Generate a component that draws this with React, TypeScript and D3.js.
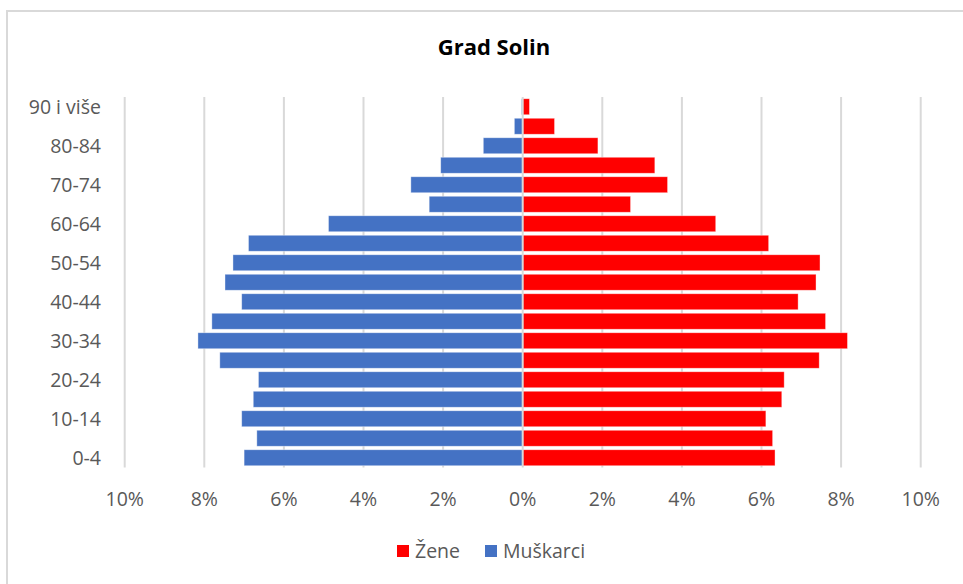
import * as d3 from 'd3';
import React, { useEffect, useRef } from 'react';

// age groups, bottom to top
const ageGroups = [
    '0-4', '5-9', '10-14', '15-19', '20-24', '25-29', '30-34', '35-39', '40-44', '45-49',
    '50-54', '55-59', '60-64', '65-69', '70-74', '75-79', '80-84', '85-89', '90 i više'
];

// share of population in %
const muskarci = [7.00, 6.68, 7.06, 6.77, 6.64, 7.61, 8.16, 7.81, 7.06, 7.48, 7.28, 6.89, 4.88, 2.35, 2.81, 2.06, 0.99, 0.21, 0.03];
const zene = [6.34, 6.28, 6.11, 6.51, 6.57, 7.45, 8.16, 7.61, 6.92, 7.37, 7.47, 6.18, 4.85, 2.71, 3.64, 3.32, 1.89, 0.80, 0.17];

const xTicks = [-10, -8, -6, -4, -2, 0, 2, 4, 6, 8, 10];

const legendItems = [
    { name: 'Žene', color: '#ff0000' },
    { name: 'Muškarci', color: '#4472c4' }
];

export default function App() {
    const svgRef = useRef(null);

    useEffect(() => {
        if (!svgRef.current) return;
        const width = 963;
        const height = 584;
        const font = "'Open Sans', 'Noto Sans', sans-serif";

        const svg = d3.select(svgRef.current);
        svg.selectAll('*').remove();

        // chart frame (runs off the right/bottom edges)
        svg.append('rect')
            .attr('x', 7)
            .attr('y', 11)
            .attr('width', width + 20)
            .attr('height', height + 20)
            .attr('fill', '#fff')
            .attr('stroke', '#d9d9d9')
            .attr('stroke-width', 2);

        const x = d3.scaleLinear()
            .domain([-10, 10])
            .range([124.7, 920.7]);

        const y = d3.scaleBand()
            .domain(ageGroups)
            .range([467.5, 97])
            .paddingInner(0.18)
            .paddingOuter(0.09);

        // gridlines
        svg.append('g')
            .selectAll('line')
            .data(xTicks.filter(d => d !== 0))
            .join('line')
            .attr('x1', d => x(d))
            .attr('x2', d => x(d))
            .attr('y1', 97)
            .attr('y2', 467.5)
            .attr('stroke', '#d9d9d9')
            .attr('stroke-width', 2);

        // male bars (left)
        svg.append('g')
            .selectAll('rect')
            .data(ageGroups)
            .join('rect')
            .attr('x', (d, i) => x(-muskarci[i]))
            .attr('y', d => y(d))
            .attr('width', (d, i) => x(0) - x(-muskarci[i]))
            .attr('height', y.bandwidth())
            .attr('fill', '#4472c4')
            .attr('stroke', '#fff')
            .attr('stroke-opacity', 0.5)
            .attr('stroke-width', 0.75);

        // female bars (right)
        svg.append('g')
            .selectAll('rect')
            .data(ageGroups)
            .join('rect')
            .attr('x', x(0))
            .attr('y', d => y(d))
            .attr('width', (d, i) => x(zene[i]) - x(0))
            .attr('height', y.bandwidth())
            .attr('fill', '#ff0000')
            .attr('stroke', '#fff')
            .attr('stroke-opacity', 0.5)
            .attr('stroke-width', 0.75);

        // category axis line at 0
        svg.append('line')
            .attr('x1', x(0))
            .attr('x2', x(0))
            .attr('y1', 97)
            .attr('y2', 467.5)
            .attr('stroke', '#d9d9d9')
            .attr('stroke-width', 2);

        // x axis labels
        svg.append('g')
            .selectAll('text')
            .data(xTicks)
            .join('text')
            .attr('x', d => x(d))
            .attr('y', 506)
            .attr('text-anchor', 'middle')
            .attr('font-family', font)
            .attr('font-size', 19.5)
            .attr('fill', '#595959')
            .text(d => `${Math.abs(d)}%`);

        // y axis labels, every other group
        svg.append('g')
            .selectAll('text')
            .data(ageGroups.filter((d, i) => i % 2 === 0))
            .join('text')
            .attr('x', 101)
            .attr('y', d => y(d) + y.bandwidth() / 2)
            .attr('dy', '0.35em')
            .attr('text-anchor', 'end')
            .attr('font-family', font)
            .attr('font-size', 19.5)
            .attr('fill', '#595959')
            .text(d => d);

        // title
        svg.append('text')
            .attr('x', 494)
            .attr('y', 55)
            .attr('text-anchor', 'middle')
            .attr('font-family', font)
            .attr('font-size', 22)
            .attr('font-weight', 'bold')
            .attr('fill', '#000')
            .text('Grad Solin');

        // legend
        const legendX = [397, 485];
        const legend = svg.append('g')
            .selectAll('g')
            .data(legendItems)
            .join('g')
            .attr('transform', (d, i) => `translate(${legendX[i]},545)`);

        legend.append('rect')
            .attr('width', 12)
            .attr('height', 12)
            .attr('fill', d => d.color);

        legend.append('text')
            .attr('x', 18)
            .attr('y', 6)
            .attr('dy', '0.35em')
            .attr('font-family', font)
            .attr('font-size', 19.5)
            .attr('fill', '#595959')
            .text(d => d.name);
    }, []);

    return (
        <svg
            ref={svgRef}
            width={963}
            height={584}
            style={{ position: 'absolute', top: 0, left: 0, display: 'block', background: '#fff' }}
        ></svg>
    );
}
